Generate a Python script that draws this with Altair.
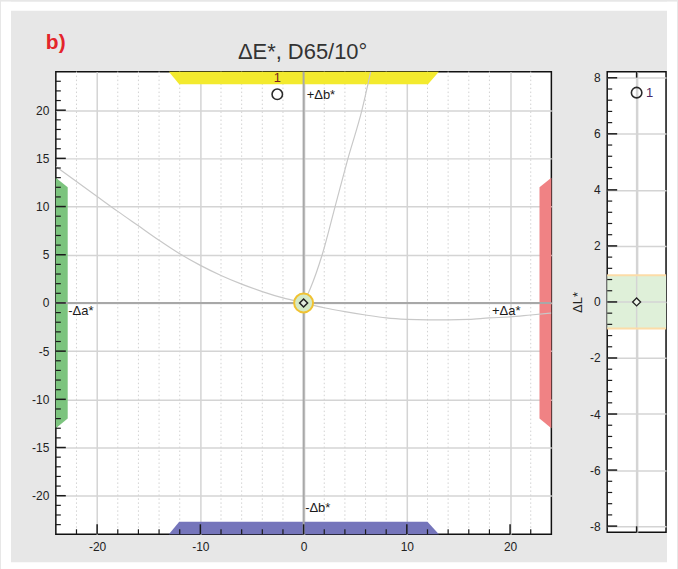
import altair as alt
import pandas as pd

# ---------------- data ----------------
X_MAJOR = [-20, -10, 0, 10, 20]
Y_MAJOR = [-20, -15, -10, -5, 0, 5, 10, 15, 20]
X_MINOR = [-22, -18, -16, -14, -12, -8, -6, -4, -2, 2, 4, 6, 8, 12, 14, 16, 18, 22]
Y_MINOR = [-23, -22, -21, -19, -18, -17, -16, -14, -13, -12, -11, -9, -8, -7, -6,
           -4, -3, -2, -1, 1, 2, 3, 4, 6, 7, 8, 9, 11, 12, 13, 14, 16, 17, 18, 19,
           21, 22, 23]

CURVE_A_X = [-24, -22, -20, -18, -16, -14, -12, -10, -8, -6, -4, -2, 0,
             2, 4, 6, 8, 10, 12, 14, 16, 18, 20, 22, 24]
CURVE_A_Y = [14.15, 12.6, 11.05, 9.5, 8.0, 6.5, 5.1, 3.9, 2.85, 1.95, 1.18, 0.52, 0.0,
             -0.5, -0.9, -1.25, -1.55, -1.7, -1.75, -1.75, -1.7, -1.55, -1.45, -1.25, -1.05]
CURVE_B_X = [0, 0.65, 1.8, 3.05, 4.3, 5.65, 6.5]
CURVE_B_Y = [0, 1.5, 5, 10, 15, 20, 24]

BAND_V_NAME = ["yellow"] * 4 + ["blue"] * 4
BAND_V_X = [-13.05, -12.05, 12.05, 13.1, -13.05, -12.05, 12.0, 13.1]
BAND_V_Y = [24, 24, 24, 24, -24, -24, -24, -24]
BAND_V_Y2 = [24, 22.7, 22.7, 24, -24, -22.7, -22.7, -24]

BAND_H_NAME = ["green"] * 4 + ["red"] * 4
BAND_H_Y = [-13, -12, 12, 13, -13, -12, 12, 13]
BAND_H_X = [-24, -24, -24, -24, 24, 24, 24, 24]
BAND_H_X2 = [-24, -22.85, -22.85, -24, 24, 22.85, 22.85, 24]

SAMPLE_A, SAMPLE_B, SAMPLE_L = -2.55, 21.65, 7.47
STD_A, STD_B, STD_L = 0.0, 0.0, 0.0
SAMPLE_NAME = "1"

DIR_TEXT = ["+Δb*", "-Δb*", "-Δa*", "+Δa*"]
DIR_X = [0.3, 0.15, -22.8, 18.25]
DIR_Y = [21.6, -21.3, -0.85, -0.85]

L_MAJOR = [-8, -6, -4, -2, 0, 2, 4, 6, 8]
L_MINOR = [-7.6, -7.2, -6.8, -6.4, -5.6, -5.2, -4.8, -4.4, -3.6, -3.2, -2.8, -2.4,
           -1.6, -1.2, -0.8, -0.4, 0.4, 0.8, 1.2, 1.6, 2.4, 2.8, 3.2, 3.6,
           4.4, 4.8, 5.2, 5.6, 6.4, 6.8, 7.2, 7.6]
L_TOL = [-0.95, 0.95]

TITLE = "ΔE*, D65/10°"
PANEL = "b)"

FONT = "Liberation Sans"
W, H = 497, 464
WR, HR = 59, 462
LBL = "'' + datum.value"

# ---------------- main panel ----------------
xs = alt.Scale(domain=[-24, 24], nice=False, zero=False)
ys = alt.Scale(domain=[-24, 24], nice=False, zero=False)
AX = alt.Axis(values=X_MAJOR, grid=True, gridColor="#d4d4d4", gridWidth=1.5,
              ticks=False, tickSize=0, domain=False, labelPadding=7, labelExpr=LBL,
              labelFontSize=12, labelColor="#222222", title=None, labelFont=FONT)
AY = alt.Axis(values=Y_MAJOR, grid=True, gridColor="#d4d4d4", gridWidth=1.5,
              ticks=False, tickSize=0, domain=False, labelPadding=7, labelExpr=LBL,
              labelFontSize=12, labelColor="#222222", title=None, labelFont=FONT)

one = pd.DataFrame({"t": [TITLE], "p": [PANEL]})

grid = alt.Chart(pd.DataFrame({"x": X_MAJOR[:1], "y": Y_MAJOR[:1]})).mark_point(
    opacity=0).encode(x=alt.X("x:Q", scale=xs, axis=AX), y=alt.Y("y:Q", scale=ys, axis=AY))

minor_grid = alt.Chart(pd.DataFrame({"x": X_MINOR})).mark_rule(
    color="#d2d2d2", strokeWidth=1, strokeDash=[1.5, 2.5]).encode(
    x=alt.X("x:Q", scale=xs, axis=AX))

bands_v = alt.Chart(pd.DataFrame({"n": BAND_V_NAME, "x": BAND_V_X, "y": BAND_V_Y, "y2": BAND_V_Y2})).mark_area(
    orient="vertical", opacity=1).encode(
    x=alt.X("x:Q", scale=xs, axis=AX), y=alt.Y("y:Q", scale=ys, axis=AY), y2="y2:Q",
    color=alt.Color("n:N", scale=alt.Scale(domain=["yellow", "blue"], range=["#f3ea2e", "#7575bb"]), legend=None))

bands_h = alt.Chart(pd.DataFrame({"n": BAND_H_NAME, "y": BAND_H_Y, "x": BAND_H_X, "x2": BAND_H_X2})).mark_area(
    orient="horizontal", opacity=1).encode(
    y=alt.Y("y:Q", scale=ys, axis=AY), x=alt.X("x:Q", scale=xs, axis=AX), x2="x2:Q",
    fill=alt.Fill("n:N", scale=alt.Scale(domain=["green", "red"], range=["#7cc47e", "#f08284"]), legend=None))

curve_a = alt.Chart(pd.DataFrame({"x": CURVE_A_X, "y": CURVE_A_Y})).mark_line(
    color="#c8c8c8", strokeWidth=1.2, clip=True, interpolate="monotone").encode(
    x=alt.X("x:Q", scale=xs, axis=AX), y=alt.Y("y:Q", scale=ys, axis=AY), order="x:Q")
curve_b = alt.Chart(pd.DataFrame({"x": CURVE_B_X, "y": CURVE_B_Y})).mark_line(
    color="#c8c8c8", strokeWidth=1.2, clip=True, interpolate="monotone").encode(
    x=alt.X("x:Q", scale=xs, axis=AX), y=alt.Y("y:Q", scale=ys, axis=AY), order="y:Q")

zero_v = alt.Chart(pd.DataFrame({"x": [0]})).mark_rule(color="#a8a8a8", strokeWidth=2).encode(
    x=alt.X("x:Q", scale=xs, axis=AX))
zero_h = alt.Chart(pd.DataFrame({"y": [0]})).mark_rule(color="#a8a8a8", strokeWidth=2).encode(
    y=alt.Y("y:Q", scale=ys, axis=AY))

tick_l_major = alt.Chart(pd.DataFrame({"y": Y_MAJOR})).mark_rule(color="#1a1a1a", strokeWidth=1.5).encode(
    y=alt.Y("y:Q", scale=ys, axis=AY), x=alt.value(0), x2=alt.value(10))
tick_l_minor = alt.Chart(pd.DataFrame({"y": Y_MINOR})).mark_rule(color="#1a1a1a", strokeWidth=1.2).encode(
    y=alt.Y("y:Q", scale=ys, axis=AY), x=alt.value(0), x2=alt.value(5))
tick_b_major = alt.Chart(pd.DataFrame({"x": X_MAJOR})).mark_rule(color="#1a1a1a", strokeWidth=1.5).encode(
    x=alt.X("x:Q", scale=xs, axis=AX), y=alt.value(H), y2=alt.value(H - 10))
tick_b_minor = alt.Chart(pd.DataFrame({"x": X_MINOR})).mark_rule(color="#1a1a1a", strokeWidth=1.2).encode(
    x=alt.X("x:Q", scale=xs, axis=AX), y=alt.value(H), y2=alt.value(H - 5))

std_df = pd.DataFrame({"x": [STD_A], "y": [STD_B]})
tol = alt.Chart(std_df).mark_point(shape="circle", size=361, filled=True, fill="#d4e9c6",
                                    stroke="#f0c232", strokeWidth=2, opacity=1).encode(
    x=alt.X("x:Q", scale=xs, axis=AX), y=alt.Y("y:Q", scale=ys, axis=AY))
std_pt = alt.Chart(std_df).mark_point(shape="diamond", size=64, filled=True, fill="#e4ecdf",
                                       stroke="#222222", strokeWidth=1.5, opacity=1).encode(
    x=alt.X("x:Q", scale=xs, axis=AX), y=alt.Y("y:Q", scale=ys, axis=AY))

smp_df = pd.DataFrame({"x": [SAMPLE_A], "y": [SAMPLE_B], "n": [SAMPLE_NAME]})
smp_pt = alt.Chart(smp_df).mark_point(shape="circle", size=110, stroke="#2a2a2a", strokeWidth=1.6,
                                       filled=False, opacity=1).encode(
    x=alt.X("x:Q", scale=xs, axis=AX), y=alt.Y("y:Q", scale=ys, axis=AY))
smp_lbl = alt.Chart(smp_df).mark_text(font=FONT, fontSize=13, color="#7a1f1f", dy=-16, baseline="middle").encode(
    x=alt.X("x:Q", scale=xs, axis=AX), y=alt.Y("y:Q", scale=ys, axis=AY), text="n:N")

dir_lbl = alt.Chart(pd.DataFrame({"x": DIR_X, "y": DIR_Y, "t": DIR_TEXT})).mark_text(
    font=FONT, fontSize=13, color="#1a1a1a", align="left", baseline="middle").encode(
    x=alt.X("x:Q", scale=xs, axis=AX), y=alt.Y("y:Q", scale=ys, axis=AY), text="t:N")

title = alt.Chart(one).mark_text(font=FONT, fontSize=22, color="#333333", align="center",
                                 baseline="alphabetic").encode(
    x=alt.value(247.5), y=alt.value(-13), text="t:N")
panel = alt.Chart(one).mark_text(font=FONT, fontSize=21, fontWeight="bold", color="#e4252b",
                                 align="left", baseline="alphabetic").encode(
    x=alt.value(-10), y=alt.value(-23), text="p:N")

# white page margin around the grey card
fr_l = alt.Chart(one).mark_rect(fill="white").encode(
    x=alt.value(-55), x2=alt.value(-45), y=alt.value(-70), y2=alt.value(499))
fr_r = alt.Chart(one).mark_rect(fill="white").encode(
    x=alt.value(613), x2=alt.value(623), y=alt.value(-70), y2=alt.value(499))
fr_t = alt.Chart(one).mark_rect(fill="white").encode(
    x=alt.value(-55), x2=alt.value(623), y=alt.value(-70), y2=alt.value(-61))
fr_b = alt.Chart(one).mark_rect(fill="white").encode(
    x=alt.value(-55), x2=alt.value(623), y=alt.value(492), y2=alt.value(499))

main = alt.layer(grid, minor_grid, bands_v, bands_h, curve_a, curve_b, zero_v, zero_h,
                 tick_l_major, tick_l_minor, tick_b_major, tick_b_minor,
                 tol, std_pt, smp_pt, smp_lbl, dir_lbl, title, panel,
                 fr_l, fr_r, fr_t, fr_b).properties(width=W, height=H)

# ---------------- right (ΔL*) panel ----------------
xr = alt.Scale(domain=[-1, 1], nice=False, zero=False)
yr = alt.Scale(domain=[-8.22, 8.22], nice=False, zero=False)
AXR = alt.Axis(values=[0], labels=False, ticks=False, tickSize=0, domain=False, grid=True,
               gridColor="#d4d4d4", gridWidth=1.5, title=None)
AYR = alt.Axis(values=L_MAJOR, grid=True, gridColor="#d4d4d4", gridWidth=1.5, ticks=False, tickSize=0,
               domain=False, labelPadding=7, labelFontSize=12, labelColor="#222222", labelFont=FONT,
               labelExpr=LBL,
               title="ΔL*", titleFont=FONT, titleFontSize=13, titleFontWeight="normal",
               titleColor="#222222", titlePadding=5)

r_grid = alt.Chart(pd.DataFrame({"x": [0], "y": [0]})).mark_point(opacity=0).encode(
    x=alt.X("x:Q", scale=xr, axis=AXR), y=alt.Y("y:Q", scale=yr, axis=AYR))
r_band = alt.Chart(pd.DataFrame({"y": [L_TOL[0]], "y2": [L_TOL[1]]})).mark_rect(fill="#dff0d9").encode(
    y=alt.Y("y:Q", scale=yr, axis=AYR), y2="y2:Q", x=alt.value(0), x2=alt.value(WR))
r_grid2 = alt.Chart(pd.DataFrame({"x": [0]})).mark_rule(color="#d4d4d4", strokeWidth=1.5).encode(
    x=alt.X("x:Q", scale=xr, axis=AXR))
r_grid3 = alt.Chart(pd.DataFrame({"y": [0]})).mark_rule(color="#d4d4d4", strokeWidth=1.5).encode(
    y=alt.Y("y:Q", scale=yr, axis=AYR))
r_tol = alt.Chart(pd.DataFrame({"y": L_TOL})).mark_rule(color="#fcdca8", strokeWidth=2).encode(
    y=alt.Y("y:Q", scale=yr, axis=AYR))
r_tick_major = alt.Chart(pd.DataFrame({"y": L_MAJOR})).mark_rule(color="#1a1a1a", strokeWidth=1.5).encode(
    y=alt.Y("y:Q", scale=yr, axis=AYR), x=alt.value(0), x2=alt.value(10))
r_tick_minor = alt.Chart(pd.DataFrame({"y": L_MINOR})).mark_rule(color="#1a1a1a", strokeWidth=1.2).encode(
    y=alt.Y("y:Q", scale=yr, axis=AYR), x=alt.value(0), x2=alt.value(5))
r_tick_top = alt.Chart(pd.DataFrame({"x": [0]})).mark_rule(color="#1a1a1a", strokeWidth=1.5).encode(
    x=alt.X("x:Q", scale=xr, axis=AXR), y=alt.value(0), y2=alt.value(6))
r_tick_bot = alt.Chart(pd.DataFrame({"x": [0]})).mark_rule(color="#1a1a1a", strokeWidth=1.5).encode(
    x=alt.X("x:Q", scale=xr, axis=AXR), y=alt.value(HR), y2=alt.value(HR - 6))
r_std = alt.Chart(pd.DataFrame({"x": [0], "y": [STD_L]})).mark_point(
    shape="diamond", size=64, filled=True, fill="#eef5ea", stroke="#222222", strokeWidth=1.3, opacity=1).encode(
    x=alt.X("x:Q", scale=xr, axis=AXR), y=alt.Y("y:Q", scale=yr, axis=AYR))
r_smp_df = pd.DataFrame({"x": [0], "y": [SAMPLE_L], "n": [SAMPLE_NAME]})
r_smp = alt.Chart(r_smp_df).mark_point(shape="circle", size=110, stroke="#2a2a2a", strokeWidth=1.6,
                                        filled=False, opacity=1).encode(
    x=alt.X("x:Q", scale=xr, axis=AXR), y=alt.Y("y:Q", scale=yr, axis=AYR))
r_lbl = alt.Chart(r_smp_df).mark_text(font=FONT, fontSize=13, color="#4a2a66", dx=13, baseline="middle").encode(
    x=alt.X("x:Q", scale=xr, axis=AXR), y=alt.Y("y:Q", scale=yr, axis=AYR), text="n:N")

right = alt.layer(r_grid, r_band, r_grid2, r_grid3, r_tol, r_tick_major, r_tick_minor,
                  r_tick_top, r_tick_bot, r_std, r_smp, r_lbl).properties(width=WR, height=HR)

chart = alt.hconcat(main, right, spacing=56, bounds="flush", padding=0).configure(
    background="#e7e7e7", font=FONT).configure_view(fill="white", stroke="#111111", strokeWidth=1.5)

chart.save("out.html", embed_options={"renderer": "svg", "actions": False})
